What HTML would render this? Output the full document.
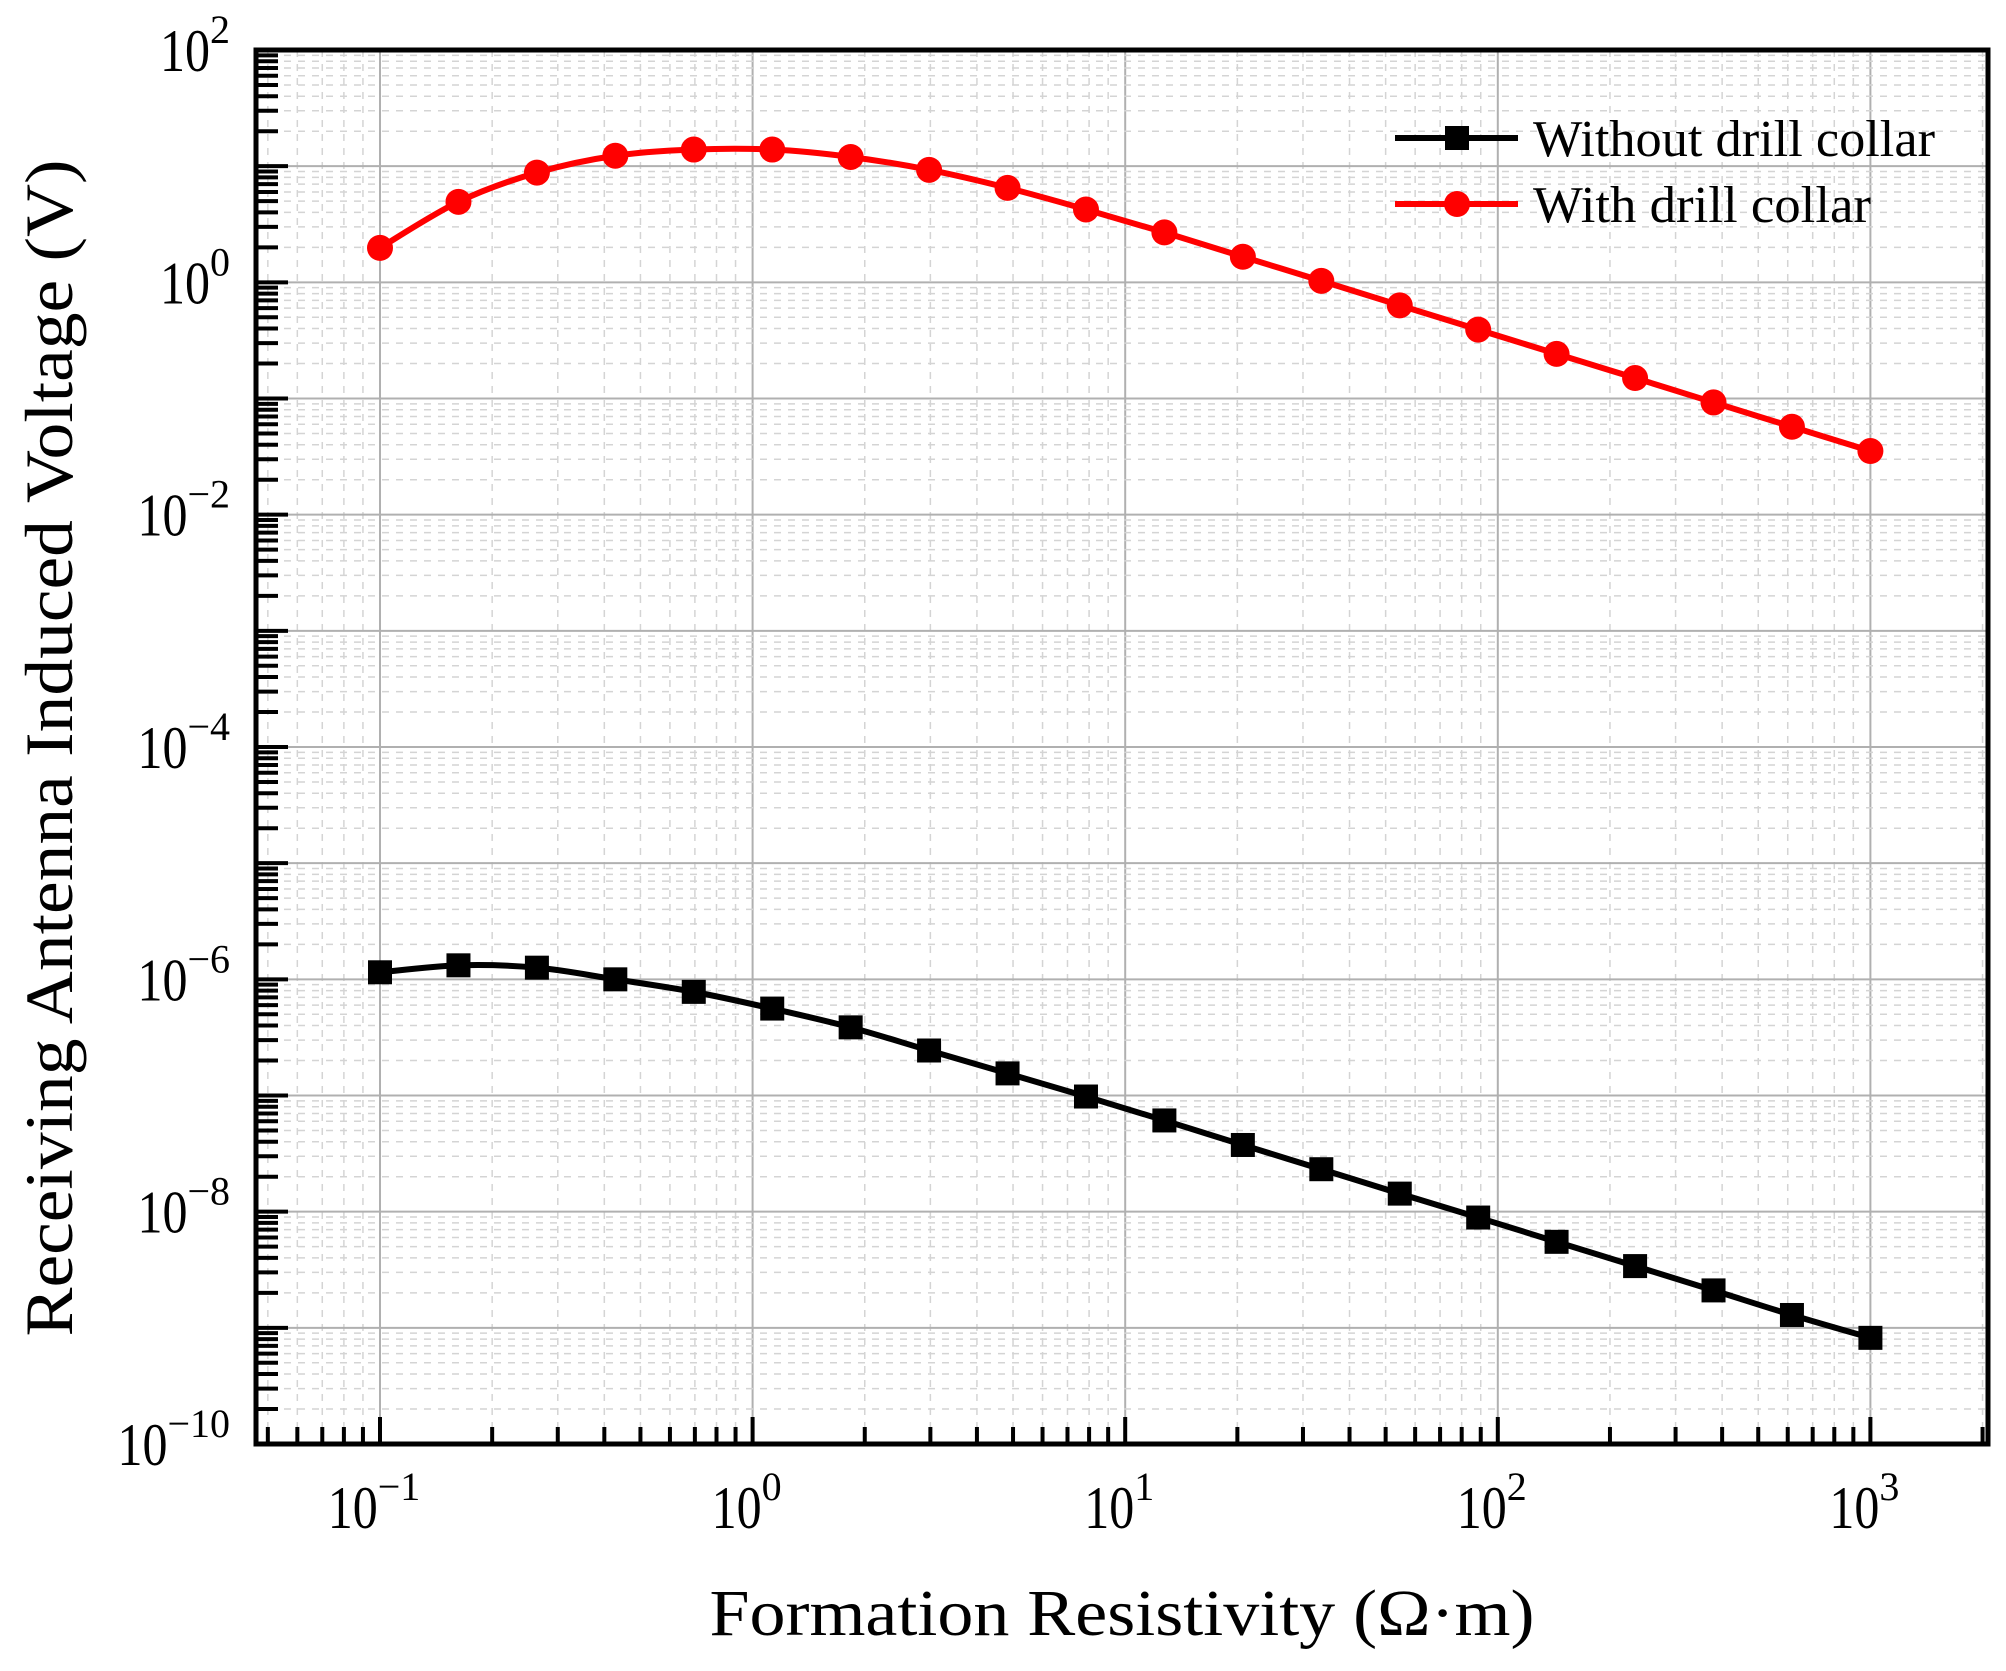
<!DOCTYPE html>
<html><head><meta charset="utf-8"><style>
html,body{margin:0;padding:0;background:#fff;}
svg{display:block;font-family:"Liberation Serif","DejaVu Serif",serif;}
</style></head><body>
<svg id="chart" width="2006" height="1671" viewBox="0 0 2006 1671">
<g id="grid"></g>
<g id="series"></g>
<g id="axes"></g>
<text x="1122" y="1635" font-size="66" textLength="825" lengthAdjust="spacingAndGlyphs" text-anchor="middle">Formation Resistivity (Ω·m)</text>
<text transform="translate(72,748) rotate(-90)" font-size="68" textLength="1177" lengthAdjust="spacingAndGlyphs" text-anchor="middle">Receiving Antenna Induced Voltage (V)</text>
<g>
 <g>
  <line x1="1395" y1="138" x2="1518" y2="138" stroke="#000" stroke-width="6"/>
  <rect x="1445" y="126" width="24" height="24" fill="#000"/>
  <text x="1533" y="156" font-size="52" textLength="402" lengthAdjust="spacingAndGlyphs">Without drill collar</text>
 </g>
 <g>
  <line x1="1395" y1="204" x2="1518" y2="204" stroke="#f00" stroke-width="6"/>
  <circle cx="1457" cy="204" r="13" fill="#f00"/>
  <text x="1533" y="222" font-size="52" textLength="338" lengthAdjust="spacingAndGlyphs">With drill collar</text>
 </g>
</g>
</svg>
<script>
const xValues = [0.1,0.1624,0.2637,0.4281,0.6952,1.129,1.833,2.976,4.833,7.848,12.74,20.69,33.60,54.56,88.59,143.8,233.6,379.3,615.8,1000];
const withCollar = [1.98,4.93,8.8,12.3,13.9,13.9,12.0,9.3,6.5,4.24,2.69,1.66,1.03,0.634,0.392,0.242,0.150,0.0925,0.0571,0.0353];
const withoutCollar = [1.15e-6,1.32e-6,1.26e-6,1.0e-6,7.8e-7,5.6e-7,3.86e-7,2.44e-7,1.55e-7,9.8e-8,6.1e-8,3.75e-8,2.32e-8,1.43e-8,8.9e-9,5.5e-9,3.4e-9,2.1e-9,1.29e-9,8.2e-10];
const xTickExps = [-1,0,1,2,3];
const yTickExps = [2,0,-2,-4,-6,-8,-10];

const L=256,R=1988,T=50,B=1444;
const X0=380, XD=372.6;
const xMinLog=-1-(X0-L)/XD, xMaxLog=-1+(R-X0)/XD;
function xs(v){return X0+(Math.log10(v)+1)*XD;}
function ys(v){return T+(2-Math.log10(v))*(B-T)/12;}
const NS='http://www.w3.org/2000/svg';
function mk(tag,attrs,parent){const e=document.createElementNS(NS,tag);for(const k in attrs)e.setAttribute(k,attrs[k]);parent.appendChild(e);return e;}
const grid=document.getElementById('grid'),series=document.getElementById('series'),axes=document.getElementById('axes');

for(let d=-2;d<=3;d++){for(let m=1;m<=9;m++){const v=m*Math.pow(10,d);const lg=Math.log10(v);if(lg<xMinLog||lg>xMaxLog)continue;const x=xs(v);
 const gl=mk('line',{x1:x,y1:T,x2:x,y2:B,stroke:m===1?'#b0b0b0':'#d4d4d4','stroke-width':m===1?2:1.5,'stroke-dasharray':m===1?'none':'7 7'},grid);
 
 
 const tk=mk('line',{x1:x,y1:B,x2:x,y2:B-(m===1?27:17),stroke:'#000','stroke-width':4},axes);
 
 
}}
for(let d=-10;d<2;d++){for(let m=1;m<=9;m++){const v=m*Math.pow(10,d);const y=ys(v);
 const gl=mk('line',{x1:L,y1:y,x2:R,y2:y,stroke:m===1?'#b0b0b0':'#d4d4d4','stroke-width':m===1?2:1.5,'stroke-dasharray':m===1?'none':'7 7'},grid);
 
 
 const tk=mk('line',{x1:L,y1:y,x2:L+(m===1?32:22),y2:y,stroke:'#000','stroke-width':4},axes);
 
 
}}
const fr=mk('rect',{x:L,y:T,width:R-L,height:B-T,fill:'none',stroke:'#000','stroke-width':5},axes);



xTickExps.forEach(e=>{const x=xs(Math.pow(10,e));
 const t=mk('text',{x:x-6,y:1528,'font-size':60,'text-anchor':'middle'},axes);
 
 
 const b=mk('tspan',{textLength:50,lengthAdjust:'spacingAndGlyphs'},t);b.textContent='10';
 const s=mk('tspan',{dy:-28,'font-size':40},t);s.textContent=(e<0?'\u2212':'')+Math.abs(e);
});
yTickExps.forEach(e=>{const y=ys(Math.pow(10,e));
 const t=mk('text',{x:230,y:y+21,'font-size':60,'text-anchor':'end'},axes);
 
 
 const b=mk('tspan',{textLength:50,lengthAdjust:'spacingAndGlyphs'},t);b.textContent='10';
 const s=mk('tspan',{dy:-28,'font-size':40},t);s.textContent=(e<0?'\u2212':'')+Math.abs(e);
});

function drawSeries(vals,color,marker,name){
 const pts=xValues.map((x,i)=>[xs(x),ys(vals[i])]);
 let d='M'+pts[0][0]+' '+pts[0][1];
 for(let i=0;i<pts.length-1;i++){const p0=pts[Math.max(0,i-1)],p1=pts[i],p2=pts[i+1],p3=pts[Math.min(pts.length-1,i+2)];
  d+=` C${p1[0]+(p2[0]-p0[0])/6} ${p1[1]+(p2[1]-p0[1])/6} ${p2[0]-(p3[0]-p1[0])/6} ${p2[1]-(p3[1]-p1[1])/6} ${p2[0]} ${p2[1]}`;}
 const path=mk('path',{d:d,fill:'none',stroke:color,'stroke-width':6},series);
 
 
 pts.forEach(p=>{let m;
  if(marker==='square')m=mk('rect',{x:p[0]-12,y:p[1]-12,width:24,height:24,fill:color},series);
  else m=mk('circle',{cx:p[0],cy:p[1],r:13,fill:color},series);
  
  
 });
}
drawSeries(withCollar,'#ff0000','circle','with-drill-collar');
drawSeries(withoutCollar,'#000000','square','without-drill-collar');
</script>
</body></html>
